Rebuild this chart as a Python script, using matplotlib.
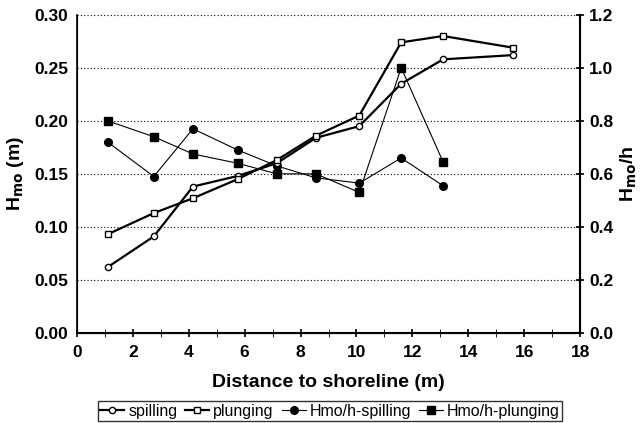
import matplotlib
matplotlib.use('Agg')
import matplotlib.pyplot as plt
from matplotlib.ticker import MultipleLocator

plt.rcParams['font.family'] = ['Liberation Sans', 'DejaVu Sans']
plt.rcParams['font.weight'] = 'bold'

distance = [1.1, 2.75, 4.15, 5.75, 7.15, 8.55, 10.1, 11.6, 13.1, 15.6]
spilling = [0.062, 0.091, 0.138, 0.148, 0.160, 0.184, 0.195, 0.235, 0.258, 0.262]
plunging = [0.093, 0.113, 0.127, 0.145, 0.163, 0.186, 0.205, 0.274, 0.280, 0.269]

distance_ratio = [1.1, 2.75, 4.15, 5.75, 7.15, 8.55, 10.1, 11.6, 13.1]
hmo_h_spilling = [0.72, 0.59, 0.77, 0.69, 0.63, 0.585, 0.565, 0.66, 0.555]
hmo_h_plunging = [0.80, 0.74, 0.675, 0.64, 0.60, 0.60, 0.53, 1.00, 0.645]

fig = plt.figure(figsize=(6.41, 4.23), dpi=100)
ax = fig.add_axes([0.12, 0.213, 0.785, 0.752])
ax2 = ax.twinx()

l1, = ax.plot(distance, spilling, '-o', color='black', lw=1.6, ms=4.5,
              mfc='white', mew=1.0, label='spilling')
l2, = ax.plot(distance, plunging, '-s', color='black', lw=1.6, ms=5,
              mfc='white', mew=1.0, label='plunging')
l3, = ax2.plot(distance_ratio, hmo_h_spilling, '-o', color='black', lw=0.8, ms=5.5,
               label='Hmo/h-spilling')
l4, = ax2.plot(distance_ratio, hmo_h_plunging, '-s', color='black', lw=0.8, ms=5.5,
               label='Hmo/h-plunging')

ax.set_xlim(0, 18)
ax.set_ylim(0, 0.30)
ax2.set_ylim(0, 1.2)
ax.xaxis.set_major_locator(MultipleLocator(2))
ax.xaxis.set_minor_locator(MultipleLocator(1))
ax.yaxis.set_major_locator(MultipleLocator(0.05))
ax2.yaxis.set_major_locator(MultipleLocator(0.2))
ax.set_yticklabels(['%.2f' % v for v in ax.get_yticks()])
ax2.set_yticklabels(['%.1f' % v for v in ax2.get_yticks()])

ax.grid(axis='y', linestyle=(0, (1, 2)), color='black', lw=0.8)
for a in (ax, ax2):
    a.spines['top'].set_visible(False)
    a.tick_params(labelsize=12.5, width=1.2, length=4)
ax.spines['bottom'].set_linewidth(1.5)
ax.spines['left'].set_linewidth(1.2)
ax2.spines['right'].set_linewidth(1.5)
ax.tick_params(axis='x', which='both', direction='inout', length=6, pad=6)
ax.tick_params(axis='y', which='both', length=0, pad=6)
ax2.tick_params(axis='y', direction='inout', length=6)
ax.set_zorder(ax2.get_zorder() + 1)
ax.patch.set_visible(False)

ax.set_xlabel('Distance to shoreline (m)', fontsize=14, fontweight='bold', labelpad=10)
ax.set_ylabel(r'H$_{\mathbf{mo}}$ (m)', fontsize=14, fontweight='bold', labelpad=6)
ax2.set_ylabel(r'H$_{\mathbf{mo}}$/h', fontsize=14, fontweight='bold', labelpad=4)

leg = fig.legend(handles=[l1, l2, l3, l4], loc='center', bbox_to_anchor=(0.515, 0.028),
                 ncol=4, frameon=True, fancybox=False, edgecolor='black',
                 handlelength=1.5, columnspacing=0.5, handletextpad=0.25,
                 borderpad=0.15, prop={'size': 11.5, 'weight': 'normal'})
leg.get_frame().set_linewidth(1.0)

fig.savefig('out.png', dpi=100)
